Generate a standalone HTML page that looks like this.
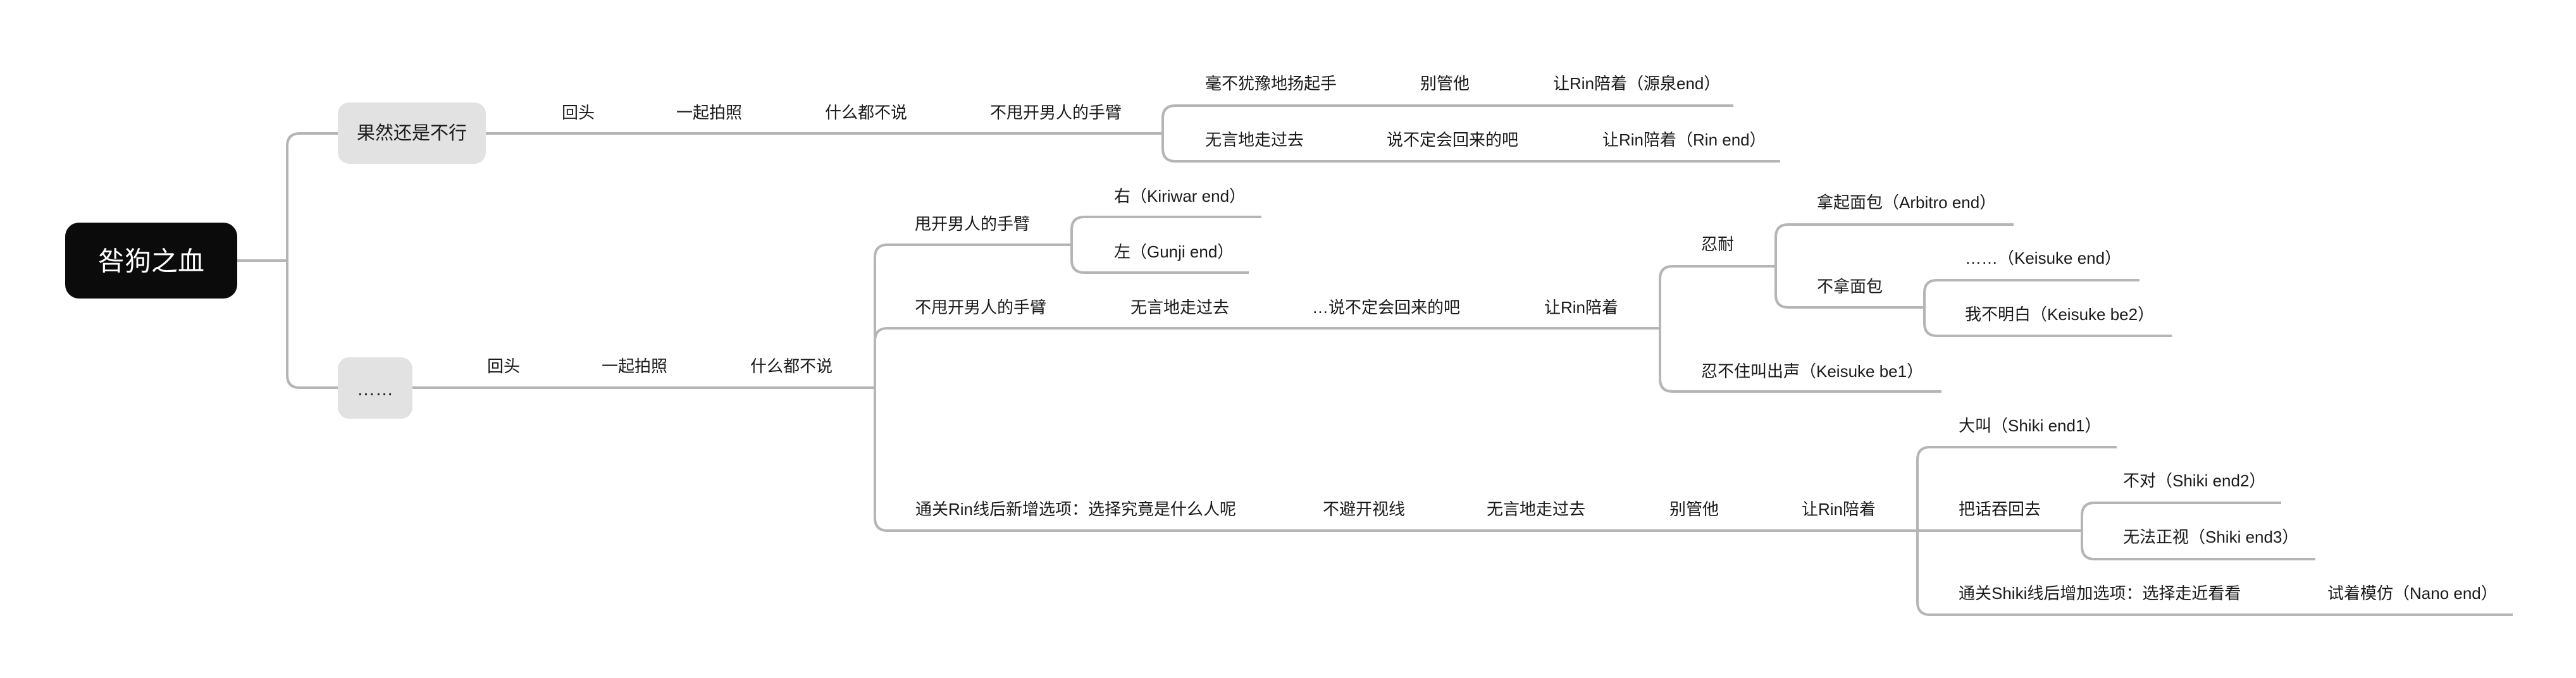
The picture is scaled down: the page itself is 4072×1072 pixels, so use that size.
<!DOCTYPE html>
<html><head><meta charset="utf-8"><style>
html,body{margin:0;padding:0;background:#fff;}
svg{display:block;}
text{font-family:"Liberation Sans","Noto Sans CJK SC",sans-serif;font-size:26px;fill:#1a1a1a;dominant-baseline:central;}
path{fill:none;stroke:#b5b5b5;stroke-width:4;}
</style></head><body>
<svg width="4072" height="1072" viewBox="0 0 4072 1072" xmlns="http://www.w3.org/2000/svg">
<path d="M375 412 L454 412"/>
<path d="M454 412 L454 231 Q454 211 474 211 L534 211"/>
<path d="M454 412 L454 593 Q454 613 474 613 L534 613"/>
<path d="M768 211 L1838 211"/>
<path d="M652 613 L1383 613"/>
<path d="M1838 211 L1838 187 Q1838 167 1858 167 L2740 167"/>
<path d="M1838 211 L1838 235 Q1838 255 1858 255 L2814 255"/>
<path d="M1383 613 L1383 407 Q1383 387 1403 387 L1694 387"/>
<path d="M1383 613 L1383 539 Q1383 519 1403 519 L2624 519"/>
<path d="M1383 613 L1383 819 Q1383 839 1403 839 L3031 839"/>
<path d="M1694 387 L1694 363 Q1694 343 1714 343 L1994 343"/>
<path d="M1694 387 L1694 411 Q1694 431 1714 431 L1974 431"/>
<path d="M2624 519 L2624 441 Q2624 421 2644 421 L2807 421"/>
<path d="M2624 519 L2624 599 Q2624 619 2644 619 L3069 619"/>
<path d="M2807 421 L2807 375 Q2807 355 2827 355 L3183 355"/>
<path d="M2807 421 L2807 466 Q2807 486 2827 486 L3042 486"/>
<path d="M3042 486 L3042 463 Q3042 443 3062 443 L3382 443"/>
<path d="M3042 486 L3042 511 Q3042 531 3062 531 L3433 531"/>
<path d="M3031 839 L3031 727 Q3031 707 3051 707 L3346 707"/>
<path d="M3031 839 L3291 839"/>
<path d="M3031 839 L3031 952 Q3031 972 3051 972 L3972 972"/>
<path d="M3291 839 L3291 815 Q3291 795 3311 795 L3606 795"/>
<path d="M3291 839 L3291 864 Q3291 884 3311 884 L3660 884"/>
<rect x="103" y="352" width="272" height="120" rx="22" fill="#0b0b0b"/>
<text x="239" y="413" text-anchor="middle" style="font-size:42px;fill:#fff;">咎狗之血</text>
<rect x="534" y="162" width="234" height="97" rx="18" fill="#e2e2e2"/>
<text x="651" y="211" text-anchor="middle" style="font-size:29px;">果然还是不行</text>
<rect x="534" y="565" width="118" height="97" rx="18" fill="#e2e2e2"/>
<text x="593" y="616" text-anchor="middle" style="font-size:29px;">……</text>
<text x="888" y="178">回头</text>
<text x="1069" y="178">一起拍照</text>
<text x="1304" y="178">什么都不说</text>
<text x="1565" y="178">不甩开男人的手臂</text>
<text x="1905" y="132">毫不犹豫地扬起手</text>
<text x="2245" y="132">别管他</text>
<text x="2455" y="132">让Rin陪着（源泉end）</text>
<text x="1905" y="221">无言地走过去</text>
<text x="2192" y="221">说不定会回来的吧</text>
<text x="2533" y="221">让Rin陪着（Rin end）</text>
<text x="770" y="579">回头</text>
<text x="951" y="579">一起拍照</text>
<text x="1186" y="579">什么都不说</text>
<text x="1446" y="354">甩开男人的手臂</text>
<text x="1761" y="310">右（Kiriwar end）</text>
<text x="1761" y="398">左（Gunji end）</text>
<text x="1446" y="486">不甩开男人的手臂</text>
<text x="1787" y="486">无言地走过去</text>
<text x="2074" y="486">…说不定会回来的吧</text>
<text x="2441" y="486">让Rin陪着</text>
<text x="2689" y="386">忍耐</text>
<text x="2872" y="320">拿起面包（Arbitro end）</text>
<text x="2872" y="453">不拿面包</text>
<text x="3106" y="408">……（Keisuke end）</text>
<text x="3106" y="497">我不明白（Keisuke be2）</text>
<text x="2689" y="587">忍不住叫出声（Keisuke be1）</text>
<text x="1447" y="805">通关Rin线后新增选项：选择究竟是什么人呢</text>
<text x="2091" y="805">不避开视线</text>
<text x="2350" y="805">无言地走过去</text>
<text x="2639" y="805">别管他</text>
<text x="2848" y="805">让Rin陪着</text>
<text x="3096" y="673">大叫（Shiki end1）</text>
<text x="3096" y="805">把话吞回去</text>
<text x="3356" y="760">不对（Shiki end2）</text>
<text x="3356" y="849">无法正视（Shiki end3）</text>
<text x="3096" y="938">通关Shiki线后增加选项：选择走近看看</text>
<text x="3679" y="938">试着模仿（Nano end）</text>
</svg>
</body></html>
